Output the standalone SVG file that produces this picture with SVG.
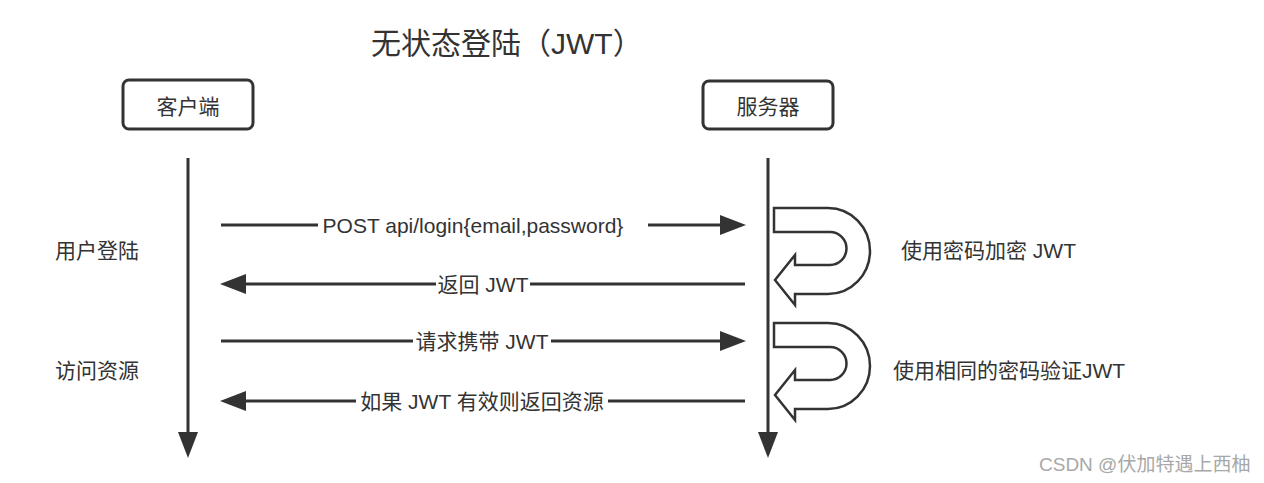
<svg xmlns="http://www.w3.org/2000/svg" width="1264" height="483" viewBox="0 0 1264 483">
<style>
  .t{font-family:"Liberation Sans","Noto Sans CJK SC",sans-serif;font-size:21px;fill:#333}
  .title{font-size:30px}
  .box{fill:#fff;stroke:#333;stroke-width:3}
  .ln{stroke:#333;stroke-width:3;fill:none}
  .u{fill:#fff;stroke:#333;stroke-width:2.5;stroke-linejoin:miter}
  .wm{font-family:"Liberation Sans","Noto Sans CJK SC",sans-serif;font-size:19px;fill:#a8a8a8}
</style>
<defs>
  <marker id="ah" markerUnits="userSpaceOnUse" markerWidth="26" markerHeight="20" viewBox="0 0 26 20" refX="0" refY="10" orient="auto">
    <path d="M0,0 L26,10 L0,20 Z" fill="#333"/>
  </marker>
</defs>
<rect width="1264" height="483" fill="#fff"/>
<text id="title" class="t title" x="371" y="54">无状态登陆（JWT）</text>

<g id="client">
  <rect class="box" x="123" y="80" width="130" height="49" rx="6"/>
  <text class="t" x="188" y="114" text-anchor="middle">客户端</text>
</g>
<g id="server">
  <rect class="box" x="703" y="81" width="130" height="48" rx="6"/>
  <text class="t" x="768" y="114" text-anchor="middle">服务器</text>
</g>

<g id="labels">
  <text class="t" x="55" y="258">用户登陆</text>
  <text class="t" x="55" y="378">访问资源</text>
  <text class="t" x="901" y="258">使用密码加密 JWT</text>
  <text class="t" x="893" y="378">使用相同的密码验证JWT</text>
</g>

<g id="selfloop1">
  <path class="u" d="M774,208 L828,208 A42,43 0 0 1 828,294 L795,294 L795,305 L775,280 L795,255 L795,265 L830,265 A16.5,16.5 0 0 0 830,232 L774,232 Z"/>
</g>
<g id="selfloop2">
  <path class="u" d="M774,323 L828,323 A42,43 0 0 1 828,409 L795,409 L795,420 L775,395 L795,370 L795,380 L830,380 A16.5,16.5 0 0 0 830,347 L774,347 Z"/>
</g>

<g id="connectors">
  <line class="ln" x1="188" y1="158" x2="188" y2="432" marker-end="url(#ah)"/>
  <line class="ln" x1="768" y1="158" x2="768" y2="432" marker-end="url(#ah)"/>

  <line class="ln" x1="221" y1="225" x2="318" y2="225"/>
  <line class="ln" x1="648" y1="225" x2="720" y2="225" marker-end="url(#ah)"/>
  <text class="t" x="473" y="233" text-anchor="middle">POST api/login{email,password}</text>

  <line class="ln" x1="745" y1="284" x2="530" y2="284"/>
  <line class="ln" x1="436" y1="284" x2="246" y2="284" marker-end="url(#ah)"/>
  <text class="t" x="483" y="292" text-anchor="middle">返回 JWT</text>

  <line class="ln" x1="221" y1="341" x2="413" y2="341"/>
  <line class="ln" x1="551" y1="341" x2="720" y2="341" marker-end="url(#ah)"/>
  <text class="t" x="482" y="349" text-anchor="middle">请求携带 JWT</text>

  <line class="ln" x1="745" y1="401" x2="608" y2="401"/>
  <line class="ln" x1="356" y1="401" x2="246" y2="401" marker-end="url(#ah)"/>
  <text class="t" x="482" y="409" text-anchor="middle">如果 JWT 有效则返回资源</text>
</g>

<text id="watermark" class="wm" x="1039" y="471">CSDN @伏加特遇上西柚</text>
</svg>
